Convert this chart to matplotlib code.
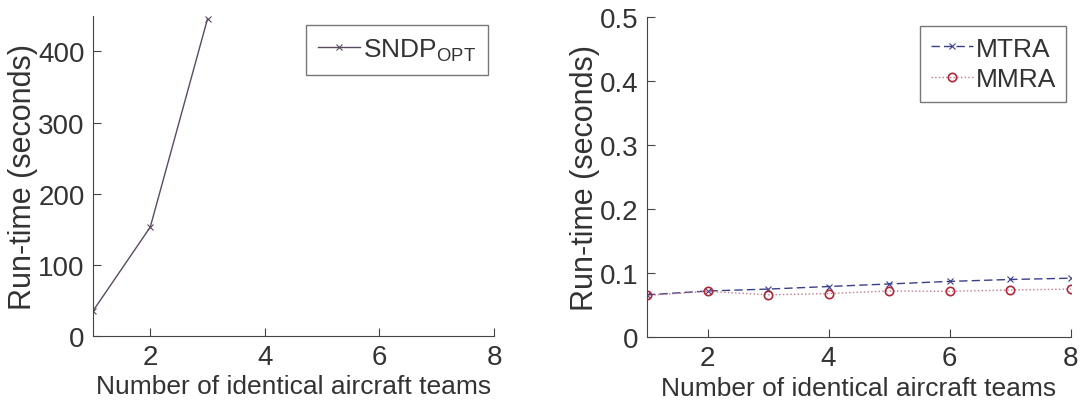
import matplotlib
matplotlib.use('Agg')
import matplotlib.pyplot as plt

plt.rcParams['font.family'] = ['Liberation Sans', 'DejaVu Sans']
plt.rcParams['mathtext.fontset'] = 'custom'
plt.rcParams['mathtext.rm'] = 'Liberation Sans'

# data
teams_opt = [1, 2, 3]
sndp_opt = [35, 153, 446]

teams = [1, 2, 3, 4, 5, 6, 7, 8]
mtra = [0.066, 0.072, 0.075, 0.079, 0.083, 0.087, 0.090, 0.092]
mmra = [0.065, 0.0715, 0.066, 0.068, 0.072, 0.0715, 0.0735, 0.075]

xticks = [2, 4, 6, 8]
txt = '#333333'
axc = '#444444'

fig = plt.figure(figsize=(10.81, 4.02), dpi=100)
ax1 = fig.add_axes([0.086, 0.162, 0.371, 0.796])
ax2 = fig.add_axes([0.5985, 0.159, 0.392, 0.796])

ax1.plot(teams_opt, sndp_opt, '-x', color='#5a4a60', lw=1.0, ms=4, mew=0.8,
         label='SNDP$_{\\mathregular{OPT}}$')
ax1.set_ylim(0, 450)
ax1.set_yticks([0, 100, 200, 300, 400])

ax2.plot(teams, mtra, '--x', color='#3a3f8a', lw=1.0, ms=4, mew=0.8, label='MTRA',
         dashes=(6, 3))
ax2.plot(teams, mmra, ':o', color='#c8788a', lw=1.0, ms=6, mew=1.2, mfc='none',
         mec='#b02838', label='MMRA')
ax2.set_ylim(0, 0.5)
ax2.set_yticks([0, 0.1, 0.2, 0.3, 0.4, 0.5])
ax2.set_yticklabels(['0', '0.1', '0.2', '0.3', '0.4', '0.5'])

for ax in (ax1, ax2):
    ax.set_xlim(1, 8)
    ax.set_xticks(xticks)
    for s in ('top', 'right'):
        ax.spines[s].set_visible(False)
    for s in ('left', 'bottom'):
        ax.spines[s].set_color(axc)
    ax.tick_params(direction='in', length=6, color=axc, labelsize=20, labelcolor=txt, pad=6)
    ax.set_xlabel('Number of identical aircraft teams', fontsize=19, color=txt, labelpad=3)
    ax.set_ylabel('Run-time (seconds)', fontsize=22, color=txt, labelpad=0)

leg1 = ax1.legend(loc='upper right', fontsize=19, frameon=True, fancybox=False,
                  edgecolor='#555555', handlelength=1.6, handletextpad=0.1,
                  borderpad=0.45, borderaxespad=0, bbox_to_anchor=(0.985, 0.972))
leg2 = ax2.legend(loc='upper right', fontsize=19, frameon=True, fancybox=False,
                  edgecolor='#555555', handlelength=1.6, handletextpad=0.1,
                  borderpad=0.4, labelspacing=0.25, borderaxespad=0,
                  bbox_to_anchor=(0.99, 0.972))
for leg in (leg1, leg2):
    leg.get_frame().set_linewidth(1.0)
    for t in leg.get_texts():
        t.set_color(txt)

fig.savefig('out.png', dpi=100)
